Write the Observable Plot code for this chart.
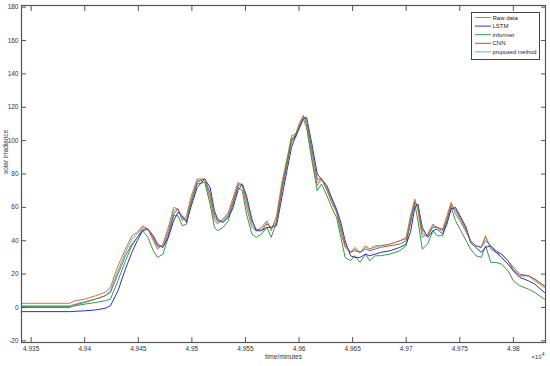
<!DOCTYPE html>
<html>
<head>
<meta charset="utf-8">
<script src="https://cdn.jsdelivr.net/npm/d3@7"></script>
<script src="https://cdn.jsdelivr.net/npm/@observablehq/plot@0.6"></script>
<style>
  html, body { margin: 0; padding: 0; background: #fff; }
  #chart svg { display: block; }
</style>
</head>
<body>
<div id="chart"></div>
<script>
const minutes = [
  49341, 49386, 49391, 49400, 49410, 49419, 49424, 49431, 49438, 49444,
  49449, 49454, 49459, 49464, 49468, 49473, 49478, 49483, 49487, 49491,
  49495, 49499, 49505, 49512, 49517, 49521, 49524, 49529, 49534, 49538,
  49543, 49547, 49551, 49556, 49560, 49565, 49570, 49574, 49579, 49584,
  49589, 49593, 49597, 49600, 49604, 49607, 49612, 49617, 49621, 49626,
  49631, 49635, 49639, 49643, 49648, 49652, 49657, 49662, 49666, 49671,
  49676, 49685, 49694, 49700, 49704, 49708, 49711, 49715, 49720, 49725,
  49729, 49734, 49738, 49742, 49746, 49751, 49756, 49760, 49765, 49770,
  49774, 49779, 49784, 49789, 49795, 49800, 49806, 49814, 49820, 49829
];
const rawData = [
  2.5, 2.5, 4, 5, 7, 9, 12, 25, 35, 43,
  45, 49, 47, 40, 35, 38, 48, 60, 59, 52,
  55, 66, 77, 77, 65, 52, 50, 53, 57, 65,
  75, 73, 60, 48, 46, 48, 52, 46, 55, 75,
  90, 103, 104, 110, 115, 110, 90, 73, 77, 70,
  62, 57, 45, 36, 33, 36, 33, 37, 35, 37,
  37, 38, 40, 42, 55, 65, 58, 42, 44, 50,
  48, 47, 55, 63, 56, 51, 45, 40, 37, 36,
  43, 35, 33, 32, 28, 22, 19, 19, 16, 12
];
const proposedMethod = [
  1, 1, 2, 3.5, 5, 7, 10, 22, 33, 41,
  44, 48, 47, 41, 36, 37, 46, 58, 59, 53,
  53, 64, 76, 77, 67, 54, 51, 52, 56, 63,
  74, 74, 63, 50, 46, 47, 51, 47, 53, 72,
  88, 101, 104, 109, 115, 112, 93, 75, 77, 71,
  63, 58, 47, 37, 33, 35, 33, 36, 35, 36,
  37, 38, 40, 41, 52, 64, 60, 44, 43, 49,
  48, 46, 53, 62, 58, 52, 46, 40, 37, 36,
  42, 36, 33, 32, 28, 23, 19, 19, 17, 13
];
const cnn = [
  0, 0, 1.5, 3, 5, 7, 9, 20, 31, 38,
  42, 47, 47, 42, 37, 36, 44, 56, 59, 54,
  52, 62, 75, 77, 69, 56, 52, 51, 55, 61,
  73, 74, 65, 52, 47, 46, 50, 48, 51, 70,
  86, 99, 104, 108, 114, 113, 95, 77, 77, 72,
  64, 58, 49, 38, 33, 34, 33, 35, 34, 35,
  36, 37, 38, 40, 50, 63, 61, 46, 43, 48,
  48, 46, 52, 61, 59, 53, 47, 40, 37, 36,
  40, 37, 34, 32, 28, 24, 20, 19, 17, 13
];
const lstm = [
  -2.5, -2.5, -2.3, -2, -1.5, -0.5, 1, 10, 23, 33,
  40, 46, 47, 43, 38, 36, 42, 52, 57, 55,
  51, 60, 72, 77, 72, 58, 53, 51, 54, 59,
  70, 74, 67, 53, 46, 46, 48, 48, 49, 66,
  83, 96, 103, 107, 113, 114, 98, 80, 77, 73,
  65, 59, 51, 40, 31, 30, 30, 32, 31, 32,
  33, 34, 36, 38, 45, 60, 62, 48, 42, 46,
  47, 44, 50, 59, 60, 54, 48, 39, 36, 33,
  36, 37, 33, 30, 26, 22, 18, 16, 14, 9
];
const informer = [
  0.5, 0.5, 1, 2, 3, 4, 5, 16, 28, 37,
  42, 46, 42, 34, 30, 32, 42, 55, 55, 49,
  50, 62, 74, 75, 62, 48, 46, 48, 52, 62,
  72, 70, 56, 44, 42, 44, 48, 42, 51, 72,
  88, 101, 102, 108, 113, 108, 88, 70, 74, 67,
  59, 54, 42, 30, 28, 31, 27, 32, 28, 31,
  31, 32, 34, 37, 52, 62, 52, 35, 38, 46,
  43, 43, 52, 60, 52, 46, 40, 35, 31, 30,
  37, 27, 27, 26, 22, 16, 13, 11, 9, 5
];

const seriesNames = ["Raw data", "LSTM", "informer", "CNN", "proposed method"];
const seriesColors = ["#d4733a", "#2c2cd6", "#2f9a4a", "#8c6a48", "#4fb4ea"];
const seriesValues = [rawData, lstm, informer, cnn, proposedMethod];
const drawOrder = ["proposed method", "Raw data", "informer", "LSTM", "CNN"];

const xTicks = [49350, 49400, 49450, 49500, 49550, 49600, 49650, 49700, 49750, 49800];
const xTickLabels = ["4.935", "4.94", "4.945", "4.95", "4.955", "4.96", "4.965", "4.97", "4.975", "4.98"];
const yTicks = [-20, 0, 20, 40, 60, 80, 100, 120, 140, 160, 180];
const yTickLabels = ["-20", "0", "20", "40", "60", "80", "100", "120", "140", "160", "180"];

const rows = [];
for (const name of drawOrder) {
  const vals = seriesValues[seriesNames.indexOf(name)];
  minutes.forEach((t, i) => rows.push({series: name, t, v: vals[i]}));
}

const font = "'Liberation Sans Narrow', 'Liberation Sans', Arial, sans-serif";
const axisColor = "#555";

const chart = Plot.plot({
  width: 550,
  height: 366,
  marginLeft: 21,
  marginRight: 5,
  marginTop: 5,
  marginBottom: 24,
  style: {fontFamily: font, fontSize: "6.5px", color: "#333", background: "#fff"},
  x: {domain: [49341, 49830]},
  y: {domain: [-21, 181]},
  color: {domain: seriesNames, range: seriesColors},
  marks: [
    Plot.line(rows, {x: "t", y: "v", z: "series", stroke: "series", strokeWidth: 1}),
    Plot.frame({stroke: axisColor, strokeWidth: 1.2}),
    Plot.axisX(xTicks, {anchor: "bottom", tickSize: 0, tickPadding: 4, tickFormat: (d, i) => xTickLabels[i], label: null, stroke: axisColor}),
    Plot.axisX(xTicks, {anchor: "bottom", tickSize: -5, tickFormat: () => "", label: null, stroke: axisColor}),
    Plot.axisX(xTicks, {anchor: "top", tickSize: -5, tickFormat: () => "", label: null, stroke: axisColor}),
    Plot.axisY(yTicks, {anchor: "left", tickSize: 0, tickPadding: 3, tickFormat: (d, i) => yTickLabels[i], label: null}),
    Plot.axisY(yTicks, {anchor: "left", tickSize: -5, tickFormat: () => "", label: null, stroke: axisColor}),
    Plot.axisY(yTicks, {anchor: "right", tickSize: -5, tickFormat: () => "", label: null, stroke: axisColor}),
    Plot.text(["time/minutes"], {frameAnchor: "bottom", dy: 16, fontSize: 6.5, fill: "#333"}),
    Plot.text(["solar irradiance"], {frameAnchor: "left", rotate: -90, dx: -16, fontSize: 6.5, fill: "#333"}),
    Plot.text(["×10"], {frameAnchor: "bottom-right", dy: 16, dx: -4, textAnchor: "end", fontSize: 6, fill: "#333"}),
    Plot.text(["4"], {frameAnchor: "bottom-right", dy: 13, dx: -1, textAnchor: "end", fontSize: 5, fill: "#333"})
  ]
});

// Legend box inside the plot (top-right)
const svg = d3.select(chart);
const lg = svg.append("g").attr("font-family", font).attr("font-size", 6)
  .attr("fill", "#222").attr("text-anchor", "start");
lg.append("rect").attr("x", 471.5).attr("y", 12.5).attr("width", 68).attr("height", 47)
  .attr("fill", "#fff").attr("stroke", "#444").attr("stroke-width", 1);
seriesNames.forEach((name, i) => {
  const y = 17.5 + i * 8.6;
  lg.append("line").attr("x1", 475).attr("x2", 491).attr("y1", y).attr("y2", y)
    .attr("stroke", seriesColors[i]).attr("stroke-width", 1);
  lg.append("text").attr("x", 492.5).attr("y", y).attr("dy", "0.35em")
    .attr("text-anchor", "start").attr("textLength", name === "proposed method" ? 44 : null)
    .attr("lengthAdjust", "spacingAndGlyphs").text(name);
});

document.getElementById("chart").appendChild(chart);
</script>
</body>
</html>
